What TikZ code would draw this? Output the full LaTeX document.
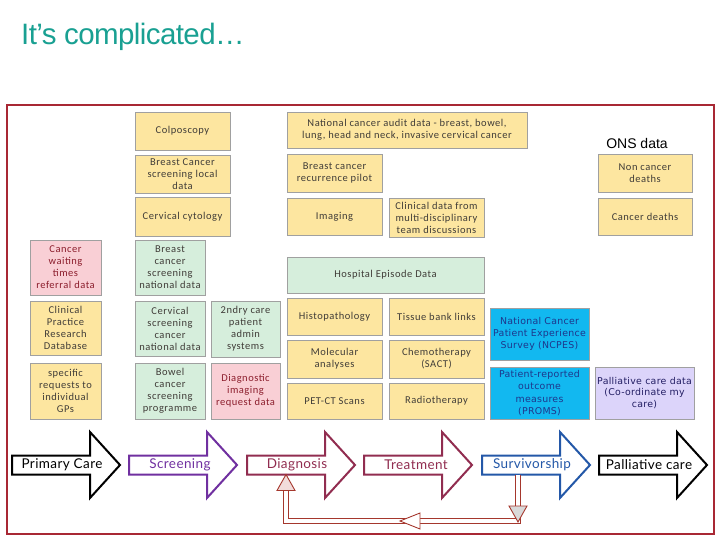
\documentclass[tikz,border=0pt]{standalone}
\usepackage{fontspec}
\usetikzlibrary{calc}
\setmainfont[LetterSpace=5]{Carlito}
\newfontfamily\titlefont[LetterSpace=-2]{Liberation Sans}
\newfontfamily\onsfont{Liberation Sans}
\newfontfamily\arrowfont[LetterSpace=3]{Lato}
\newfontfamily\verdfont[LetterSpace=3]{DejaVu Sans}

\definecolor{yel}{RGB}{253,230,160}
\definecolor{grn}{RGB}{214,238,220}
\definecolor{pnk}{RGB}{249,207,213}
\definecolor{blu}{RGB}{18,184,240}
\definecolor{lav}{RGB}{220,212,250}
\definecolor{titlecol}{RGB}{25,160,146}
\definecolor{framecol}{RGB}{168,40,52}
\definecolor{boxline}{RGB}{160,160,160}
\definecolor{txtgray}{RGB}{64,60,56}
\definecolor{txtred}{RGB}{140,30,45}
\definecolor{txtnavy}{RGB}{30,55,140}
\definecolor{txtlav}{RGB}{35,30,100}
\definecolor{purp}{RGB}{112,48,160}
\definecolor{maroon}{RGB}{145,45,80}
\definecolor{survblue}{RGB}{36,88,168}
\definecolor{fbcol}{RGB}{165,55,45}
\definecolor{fbpink}{RGB}{242,220,219}
\definecolor{fbgray}{RGB}{217,217,217}

\newcommand\flowarrow[5]{% x0, colour, name, text, text centre x
  \draw[color=#2, line width=2pt, line join=miter, fill=white]
    (#1,455.5) -- ++(78,0) -- ++(0,-23.5) -- ++(30,33) -- ++(-30,33)
    -- ++(0,-23.5) -- ++(-78,0) -- cycle;
  \node[arrowtext, text=#2] (#3) at (#5,465) {#4};
}

\begin{document}
\begin{tikzpicture}[x=1pt,y=-1pt,
  box/.style={draw=boxline, line width=0.7pt, align=center, inner sep=1pt,
    font=\fontsize{10.5}{12}\selectfont, text=txtgray},
  ybox/.style={box, fill=yel},
  gbox/.style={box, fill=grn},
  pbox/.style={box, fill=pnk, text=txtred},
  bbox/.style={box, fill=blu, text=txtnavy, font=\verdfont\fontsize{9.4}{12.3}\selectfont},
  lbox/.style={box, fill=lav, text=txtlav, font=\verdfont\fontsize{9.4}{11.8}\selectfont},
  arrowtext/.style={font=\arrowfont\fontsize{13.5}{15}\selectfont, inner sep=0pt},
  fbshaft/.style={draw=fbcol, line width=0.9pt, double=white, double distance=3.6pt, line join=miter},
  fbhead/.style={draw=fbcol, line width=0.9pt, line join=miter}
]
\useasboundingbox (0,0) rectangle (720,540);

% title
\node[anchor=base west, inner sep=0pt, text=titlecol,
  font=\titlefont\fontsize{29.5}{31}\selectfont] (title) at (21,45) {It’s complicated…};

% frame
\draw[framecol, line width=1.2pt] (7,105) rectangle (714,534);

% column 1-2 (top yellow)
\node[ybox, minimum width=95, minimum height=38] (colp) at (182.5,131) {Colposcopy};
\node[ybox, minimum width=95, minimum height=38] (bcsl) at (182.5,174) {Breast Cancer\\screening local\\data};
\node[ybox, minimum width=95, minimum height=39] (cyto) at (182.5,216.5) {Cervical cytology};

% left column
\node[pbox, minimum width=71, minimum height=55] (cwt) at (65.5,267.5) {Cancer\\waiting\\times\\referral data};
\node[ybox, minimum width=71, minimum height=54] (cprd) at (65.5,328) {Clinical\\Practice\\Research\\Database};
\node[ybox, minimum width=71, minimum height=56] (gps) at (65.5,391) {specific\\requests to\\individual\\GPs};

% screening column
\node[gbox, minimum width=70, minimum height=55] (bcsn) at (170,267.5) {Breast\\cancer\\screening\\national data};
\node[gbox, minimum width=70, minimum height=55] (cscn) at (170,328.5) {Cervical\\screening\\cancer\\national data};
\node[gbox, minimum width=70, minimum height=56] (bowel) at (170,391) {Bowel\\cancer\\screening\\programme};

% 2ndry care column
\node[gbox, minimum width=69, minimum height=56] (ndry) at (245.5,329) {2ndry care\\patient\\admin\\systems};
\node[pbox, minimum width=69, minimum height=56] (dimg) at (245.5,391) {Diagnostic\\imaging\\request data};

% diagnosis / treatment block
\node[ybox, minimum width=240, minimum height=36] (ncad) at (407,130) {National cancer audit data - breast, bowel,\\lung, head and neck, invasive cervical cancer};
\node[ybox, minimum width=95, minimum height=38] (bcrp) at (334.5,173) {Breast cancer\\recurrence pilot};
\node[ybox, minimum width=95, minimum height=37] (imag) at (334.5,216.5) {Imaging};
\node[ybox, minimum width=95, minimum height=39] (mdt) at (436.5,217.5) {Clinical data from\\multi-disciplinary\\team discussions};
\node[gbox, minimum width=197, minimum height=36] (hes) at (385.5,275) {Hospital Episode Data};
\node[ybox, minimum width=95, minimum height=37] (histo) at (334.5,316.5) {Histopathology};
\node[ybox, minimum width=95, minimum height=37] (tissue) at (436.5,316.5) {Tissue bank links};
\node[ybox, minimum width=95, minimum height=38] (molec) at (334.5,359) {Molecular\\analyses};
\node[ybox, minimum width=95, minimum height=38] (chemo) at (436.5,359) {Chemotherapy\\(SACT)};
\node[ybox, minimum width=95, minimum height=36] (pet) at (334.5,401) {PET-CT Scans};
\node[ybox, minimum width=95, minimum height=36] (radio) at (436.5,401) {Radiotherapy};

% survivorship / palliative
\node[bbox, minimum width=99, minimum height=52] (ncpes) at (539.5,334) {National Cancer\\Patient Experience\\Survey (NCPES)};
\node[bbox, minimum width=99, minimum height=52] (proms) at (539.5,393) {Patient-reported\\outcome\\measures\\(PROMS)};
\node[lbox, minimum width=99, minimum height=52] (pall) at (644.5,393) {Palliative care data\\(Co-ordinate my\\care)};

% ONS
\node[inner sep=0pt, font=\onsfont\fontsize{14}{16}\selectfont] (ons) at (637,143) {ONS data};
\node[ybox, minimum width=94, minimum height=38] (ncd) at (645,173) {Non cancer\\deaths};
\node[ybox, minimum width=94, minimum height=37] (cd) at (645,216.5) {Cancer deaths};

% pathway arrows
\flowarrow{12}{black}{prim}{Primary Care}{62}
\flowarrow{129}{purp}{scr}{Screening}{180}
\flowarrow{247}{maroon}{diag}{Diagnosis}{297}
\flowarrow{364}{maroon}{treat}{Treatment}{416}
\flowarrow{482}{survblue}{surv}{Survivorship}{532}
\flowarrow{599}{black}{palc}{Palliative care}{649}

% feedback loop from survivorship back to diagnosis
\coordinate (survb) at (518,474.5);
\coordinate (diagb) at (286,474.5);
\coordinate (loopR) at (518,521);
\coordinate (loopL) at (286,521);
\draw[fbshaft] (survb) -- (loopR) -- (loopL) -- ($(diagb)+(0,16)$);
\draw[fbhead, fill=fbgray] (509,506) -- (527,506) -- (518,522) -- cycle;
\draw[fbhead, fill=white] (420,513) -- (420,529) -- (400,521) -- cycle;
\draw[fbhead, fill=fbpink] ($(diagb)+(-9,16)$) -- ($(diagb)+(9,16)$) -- (diagb) -- cycle;
\end{tikzpicture}
\end{document}
